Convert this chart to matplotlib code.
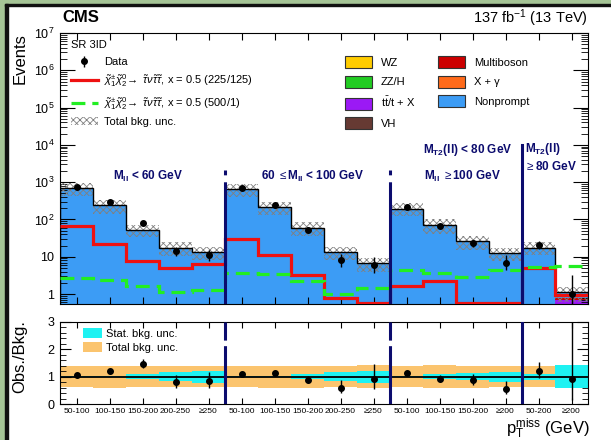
import numpy as np
import matplotlib
matplotlib.use('Agg')
import matplotlib.pyplot as plt
from matplotlib.patches import Patch, Rectangle
from matplotlib.lines import Line2D
from matplotlib.ticker import FixedLocator, NullFormatter, MultipleLocator

plt.rcParams['font.family'] = ['Liberation Sans', 'DejaVu Sans']
plt.rcParams['mathtext.fontset'] = 'custom'
plt.rcParams['mathtext.rm'] = 'Liberation Sans'
plt.rcParams['mathtext.it'] = 'Liberation Sans:italic'
plt.rcParams['mathtext.bf'] = 'Liberation Sans:bold'
plt.rcParams['hatch.linewidth'] = 0.6
plt.rcParams['lines.scale_dashes'] = False

# --- Data (16 signal-region bins) ---
bin_labels = ['50-100', '100-150', '150-200', '200-250', '≥250',
              '50-100', '100-150', '150-200', '200-250', '≥250',
              '50-100', '100-150', '150-200', '≥200',
              '50-200', '≥200']

wz = [0.15, 0.10, 0.05, 0.03, 0.02, 0.15, 0.10, 0.05, 0.03, 0.02, 0.10, 0.05, 0.03, 0.02, 0.10, 0.04]
zzh = [0.05, 0.03, 0.02, 0.01, 0.01, 0.05, 0.03, 0.02, 0.01, 0.01, 0.03, 0.02, 0.01, 0.01, 0.03, 0.02]
ttx = [0.20, 0.15, 0.10, 0.05, 0.05, 0.20, 0.10, 0.05, 0.05, 0.03, 0.20, 0.10, 0.05, 0.05, 0.20, 0.62]
vh = [0.01] * 16
multiboson = [0.05, 0.03, 0.02, 0.01, 0.01, 0.05, 0.03, 0.02, 0.01, 0.01, 0.03, 0.02, 0.01, 0.01, 0.05, 0.08]
xgamma = [0.02, 0.01, 0.01, 0.01, 0.01, 0.02, 0.01, 0.01, 0.01, 0.01, 0.02, 0.01, 0.01, 0.01, 0.02, 0.03]
nonprompt = [699.5, 239.7, 52.8, 17.4, 12.9, 639.5, 214.7, 59.8, 13.4, 6.5,
             194.6, 71.8, 25.9, 12.5, 17.1, 0.30]

data = [749, 293, 78, 14, 11, 698, 245, 53, 8, 6, 222, 67, 23, 7, 21, 1]
data_err_lo = [27.4, 17.1, 8.8, 3.7, 3.3, 26.4, 15.6, 7.3, 2.8, 2.4, 14.9, 8.2, 4.8, 2.6, 4.6, 0.83]
data_err_hi = [27.4, 17.1, 9.9, 4.8, 4.4, 26.4, 15.6, 8.3, 3.9, 3.6, 14.9, 9.2, 5.9, 3.8, 5.7, 2.3]

sig_225_125 = [66, 22, 7.6, 5.0, 6.3, 30, 11, 3.2, 0.78, 0.57, 1.6, 2.2, 0.57, 0.57, 5.0, 0.95]
sig_500_1 = [2.7, 2.4, 1.6, 1.1, 1.3, 3.7, 3.4, 2.3, 1.03, 1.45, 4.4, 3.7, 2.9, 4.4, 5.3, 5.6]

stat_unc = [0.02, 0.03, 0.10, 0.17, 0.22, 0.02, 0.03, 0.10, 0.16, 0.22, 0.03, 0.08, 0.12, 0.18, 0.11, 0.43]
total_unc = [0.38, 0.40, 0.38, 0.39, 0.39, 0.38, 0.40, 0.40, 0.38, 0.41, 0.38, 0.42, 0.40, 0.38, 0.38, 0.43]

components = [('WZ', wz, '#ffcc00'),
              ('ZZ/H', zzh, '#22cc22'),
              (r'$\mathrm{t\bar{t}}$/t + X', ttx, '#9b19f5'),
              ('VH', vh, '#663a33'),
              ('Multiboson', multiboson, '#cc0000'),
              ('X + γ', xgamma, '#ff6a1a'),
              ('Nonprompt', nonprompt, '#3c9cf5')]

NAVY = '#0c0c6e'
W, H = 611, 440

fig = plt.figure(figsize=(W / 100, H / 100), dpi=100)
fig.patch.set_facecolor('white')

# green/black frame at top and left
fig.patches.append(Rectangle((0, 1 - 4 / H), 1, 4 / H, transform=fig.transFigure, color='#a5c496', zorder=-2))
fig.patches.append(Rectangle((0, 0), 5 / W, 1, transform=fig.transFigure, color='#a5c496', zorder=-2))
fig.patches.append(Rectangle((5 / W, 1 - 6.5 / H), 1, 2.5 / H, transform=fig.transFigure, color='#101010', zorder=-1))
fig.patches.append(Rectangle((5 / W, 0), 2.5 / W, 1 - 4 / H, transform=fig.transFigure, color='#101010', zorder=-1))

ax = fig.add_axes([60 / W, 1 - 304 / H, 528 / W, 271 / H])
rax = fig.add_axes([60 / W, 1 - 404 / H, 528 / W, 82 / H])

nb = len(data)
edges = np.arange(nb + 1)
centers = edges[:-1] + 0.5

# --- Main panel ---
ymin = 0.54
cum = np.full(nb, 1e-3)
for name, vals, col in components:
    top = cum + np.array(vals)
    ax.stairs(top, edges, baseline=cum, fill=True, facecolor=col, edgecolor='none', zorder=1)
    cum = top
tot = cum
unc = np.array(total_unc)
ax.stairs(tot * (1 + unc), edges, baseline=tot * (1 - unc), fill=True, facecolor='none',
          edgecolor='#808080', hatch='xxxxx', linewidth=0, zorder=2)
ax.stairs(tot, edges, color='black', linewidth=1.0, zorder=3)

ax.stairs(sig_225_125, edges, color='#ee1111', linewidth=2.3, baseline=None, zorder=4)
ax.stairs(sig_500_1, edges, color='#22ee22', linewidth=2.3, baseline=None,
          linestyle=(0, (10, 5)), zorder=4)

data_arr = np.array(data, dtype=float)
ax.errorbar(centers, data_arr, yerr=[data_err_lo, data_err_hi], fmt='o', color='black',
            markersize=4, elinewidth=1, capsize=0, zorder=5)

ax.set_yscale('log')
ax.set_ylim(ymin, 1e7)
ax.set_xlim(0, nb)
ax.yaxis.set_major_locator(FixedLocator([1, 10, 1e2, 1e3, 1e4, 1e5, 1e6, 1e7]))
ax.set_yticklabels(['1', '10', '$10^{2}$', '$10^{3}$', '$10^{4}$', '$10^{5}$', '$10^{6}$', '$10^{7}$'],
                   fontsize=9)
ax.set_xticks(centers)
ax.xaxis.set_major_formatter(NullFormatter())
ax.tick_params(axis='x', which='both', direction='in', top=True, bottom=True, length=5, width=0.8)
ax.tick_params(axis='y', which='major', direction='in', left=True, right=True, length=11, width=0.8, pad=4)
ax.tick_params(axis='y', which='minor', direction='in', left=True, right=True, length=5, width=0.6)
ax.tick_params(axis='x', which='minor', bottom=False, top=False)

# region dividers
ax.axvline(5, ymin=0, ymax=(304 - 170) / 271, color=NAVY, linewidth=2.2, linestyle=(0, (88, 5, 4, 200)), zorder=6)
ax.axvline(10, ymin=0, ymax=(304 - 170) / 271, color=NAVY, linewidth=2.2, linestyle=(0, (88, 5, 4, 200)), zorder=6)
ax.axvline(14, ymin=0, ymax=(304 - 145) / 271, color=NAVY, linewidth=2.2, zorder=6)

kw = dict(color=NAVY, fontsize=8.5, fontweight='bold', ha='center', va='center')
ax.text(2.67, 1400, r'$\mathbf{M_{ll}}$ < 60 GeV', **kw)
ax.text(7.67, 1400, r'60 $\leq\mathbf{M_{ll}}$ < 100 GeV', **kw)
ax.text(12.36, 7200, r'$\mathbf{M_{T2}}$(ll) < 80 GeV', **kw)
ax.text(12.2, 1450, r'$\mathbf{M_{ll}}$ $\geq$100 GeV', **kw)
ax.text(14.1, 7800, r'$\mathbf{M_{T2}}$(ll)', color=NAVY, fontsize=8.5, fontweight='bold', ha='left', va='center')
ax.text(14.1, 2700, r'$\geq$80 GeV', color=NAVY, fontsize=8.5, fontweight='bold', ha='left', va='center')

# legends
h_data = ax.errorbar([], [], yerr=[[], []], fmt='o', color='black', markersize=4, elinewidth=1)
h_sig1 = Line2D([], [], color='#ee1111', linewidth=2.3)
h_sig2 = Line2D([], [], color='#22ee22', linewidth=2.3, linestyle=(0, (10, 5)))
h_unc = Patch(facecolor='white', edgecolor='#808080', hatch='xxxxx', linewidth=0)
chi = r'$\tilde{\chi}^{\pm}_{1}\tilde{\chi}^{0}_{2}\!\rightarrow\ \tilde{\tau}\nu\tilde{\tau}\tilde{\tau}$'
leg1 = ax.legend([h_data, h_sig1, h_sig2, h_unc],
                 ['Data', chi + ', x = 0.5 (225/125)', chi + ', x = 0.5 (500/1)', 'Total bkg. unc.'],
                 loc='upper left', bbox_to_anchor=(71 / W, 1 - 57 / H), bbox_transform=fig.transFigure,
                 frameon=False, fontsize=8, handlelength=2.4, handletextpad=0.6, labelspacing=0.5,
                 borderpad=0, borderaxespad=0)
ax.add_artist(leg1)

comp_handles = [Patch(facecolor=c, edgecolor='#333333', linewidth=0.8) for _, _, c in components]
comp_labels = [n for n, _, _ in components]
ax.legend(comp_handles, comp_labels, ncol=2, loc='upper left',
          bbox_to_anchor=(345 / W, 1 - 56 / H), bbox_transform=fig.transFigure,
          frameon=False, fontsize=8, handlelength=2.4, handleheight=1.3, handletextpad=0.8,
          labelspacing=0.68, columnspacing=2.1, borderpad=0, borderaxespad=0)

ax.text(0.02, 0.975, 'SR 3ID', transform=ax.transAxes, fontsize=8, ha='left', va='top')
fig.text(62 / W, 1 - 18 / H, 'CMS', fontsize=12, fontweight='bold', ha='left', va='center')
fig.text(588 / W, 1 - 18 / H, r'137 fb$^{-1}$ (13 TeV)', fontsize=10.5, ha='right', va='center')
fig.text(20 / W, 1 - 33 / H, 'Events', fontsize=12, rotation=90, ha='center', va='top')

# --- Ratio panel ---
tu = np.array(total_unc)
su = np.array(stat_unc)
rax.stairs(1 + tu, edges, baseline=1 - tu, fill=True, color='#fbc46e', zorder=1)
rax.stairs(1 + su, edges, baseline=1 - su, fill=True, color='#1ef2f2', zorder=2)
rax.axhline(1, color='black', linewidth=1.3, zorder=3)
ratio = data_arr / tot
rax.errorbar(centers, ratio, yerr=[np.array(data_err_lo) / tot, np.array(data_err_hi) / tot],
             fmt='o', color='black', markersize=4, elinewidth=1, capsize=0, zorder=5)
rax.axvline(5, color=NAVY, linewidth=2.2, linestyle=(0, (42, 4, 14, 100)), zorder=6)
rax.axvline(10, color=NAVY, linewidth=2.2, linestyle=(0, (42, 4, 14, 100)), zorder=6)
rax.axvline(14, color=NAVY, linewidth=2.2, zorder=6)

rax.set_xlim(0, nb)
rax.set_ylim(0, 3)
rax.set_xticks(centers)
rax.set_xticklabels(bin_labels, fontsize=6)
rax.yaxis.set_major_locator(FixedLocator([0, 1, 2, 3]))
rax.yaxis.set_minor_locator(MultipleLocator(0.2))
rax.tick_params(axis='y', labelsize=9)
rax.tick_params(axis='x', which='major', direction='in', top=True, bottom=True, length=4, width=0.8, pad=3)
rax.tick_params(axis='x', which='minor', top=False, bottom=False)
rax.tick_params(axis='y', which='major', direction='in', left=True, right=True, length=8, width=0.8, pad=4)
rax.tick_params(axis='y', which='minor', direction='in', left=True, right=True, length=4, width=0.6)

rax.legend([Patch(facecolor='#1ef2f2'), Patch(facecolor='#fbc46e')],
           ['Stat. bkg. unc.', 'Total bkg. unc.'], loc='upper left',
           bbox_to_anchor=(83 / W, 1 - 328 / H), bbox_transform=fig.transFigure,
           frameon=False, fontsize=8, handlelength=1.7, handleheight=1.0, handletextpad=0.4,
           labelspacing=0.3, borderpad=0, borderaxespad=0)

fig.text(20 / W, 1 - 320 / H, 'Obs./Bkg.', fontsize=12, rotation=90, ha='center', va='top')
fig.text(590 / W, 1 - 429 / H, r'$\mathrm{p}_{\mathrm{T}}^{\mathrm{miss}}$ (GeV)', fontsize=12, ha='right', va='center')

fig.savefig('out.png', dpi=100, facecolor=fig.get_facecolor())
